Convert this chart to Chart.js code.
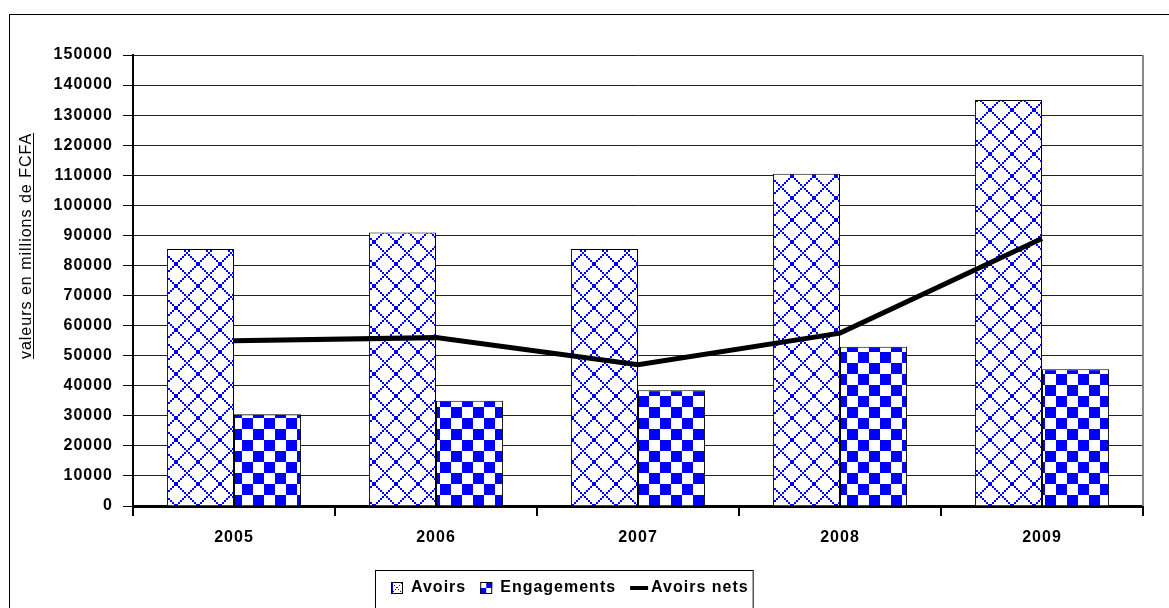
<!DOCTYPE html>
<html>
<head>
<meta charset="utf-8">
<script src="https://cdn.jsdelivr.net/npm/chart.js@4.4.0/dist/chart.umd.min.js"></script>
<style>
  html, body { margin: 0; padding: 0; background: #fff; }
  #wrap { width: 1169px; height: 608px; }
</style>
</head>
<body>
<div id="wrap"><canvas id="barChart" width="1169" height="608"></canvas></div>
<script>
// donnees
var annees = ["2005", "2006", "2007", "2008", "2009"];
var avoirs = [85500, 91000, 85500, 110500, 135000];
var engagements = [30500, 35000, 38500, 53000, 45500];
var avoirsNets = [55000, 56000, 47000, 57500, 89000];
var yTicksMax = 150000;
var yTicksStep = 10000;
var titreY = "valeurs en millions de FCFA";

var bleu = "#0000ff";

// motif losanges (Avoirs)
function motifLosanges() {
    var c = document.createElement("canvas");
    c.width = 22; c.height = 22;
    var g = c.getContext("2d");
    g.fillStyle = "#fff";
    g.fillRect(0, 0, 22, 22);
    g.fillStyle = bleu;
    for (var k = 0; k < 11; k++) {
        if (k === 5) continue; // petit vide au croisement
        g.fillRect(2 * k, 2 * k, 2, 2);
        g.fillRect(20 - 2 * k, 2 * k, 2, 2);
    }
    g.fillRect(10, 10, 2, 2);
    return g.createPattern(c, "repeat");
}

// motif damier (Engagements)
function motifDamier() {
    var c = document.createElement("canvas");
    c.width = 22; c.height = 22;
    var g = c.getContext("2d");
    g.fillStyle = "#fff";
    g.fillRect(0, 0, 22, 22);
    g.fillStyle = bleu;
    g.fillRect(0, 0, 11, 11);
    g.fillRect(11, 11, 11, 11);
    return g.createPattern(c, "repeat");
}

var espacement = "1px";

var decor = {
    id: "decor",
    beforeUpdate: function (chart) { chart.ctx.letterSpacing = espacement; },
    beforeDraw: function (chart) {
        var ctx = chart.ctx;
        ctx.save();
        ctx.fillStyle = "#fff";
        ctx.fillRect(0, 0, chart.width, chart.height);
        ctx.restore();
        ctx.letterSpacing = espacement;
    },
    afterDraw: function (chart) {
        var ctx = chart.ctx;
        var a = chart.chartArea;
        ctx.save();
        ctx.letterSpacing = espacement;

        // cadre exterieur
        ctx.strokeStyle = "#000";
        ctx.lineWidth = 1;
        ctx.strokeRect(9.5, 14.5, 1170, 620);

        // bord droit de la zone de tracé
        ctx.strokeStyle = "#888";
        ctx.lineWidth = 2;
        ctx.beginPath();
        ctx.moveTo(a.right, a.top);
        ctx.lineTo(a.right, a.bottom);
        ctx.stroke();

        // titre de l'axe Y souligne
        ctx.fillStyle = "#000";
        ctx.font = "16px 'Liberation Sans', Arial, sans-serif";
        ctx.textAlign = "center";
        ctx.textBaseline = "alphabetic";
        ctx.translate(31, 246);
        ctx.rotate(-Math.PI / 2);
        ctx.fillText(titreY, 0, 0);
        var w = ctx.measureText(titreY).width;
        ctx.fillRect(-w / 2, 2, w, 1);
        ctx.setTransform(1, 0, 0, 1, 0, 0);

        // legende
        var ds = chart.data.datasets;
        ctx.font = "bold 16px 'Liberation Sans', Arial, sans-serif";
        ctx.textAlign = "left";
        ctx.textBaseline = "middle";
        var x = 391, yc = 588;
        var x0 = 375;
        for (var i = 0; i < ds.length; i++) {
            if (ds[i].type === "line") {
                ctx.fillStyle = "#000";
                ctx.fillRect(x, yc - 2, 18, 4);
                x += 21;
            } else {
                ctx.fillStyle = "#fff";
                ctx.fillRect(x, yc - 6, 12, 12);
                ctx.fillStyle = bleu;
                if (i === 0) {
                    for (var k = 0; k < 6; k++) {
                        ctx.fillRect(x + 1 + 2 * k, yc - 5 + 2 * k, 1, 1);
                        ctx.fillRect(x + 10 - 2 * k, yc - 5 + 2 * k, 1, 1);
                    }
                    ctx.fillRect(x + 1, yc - 5, 1, 10);
                } else {
                    ctx.fillRect(x + 6, yc - 6, 6, 6);
                    ctx.fillRect(x, yc, 6, 6);
                }
                ctx.strokeStyle = "#000";
                ctx.lineWidth = 1;
                ctx.strokeRect(x + 0.5, yc - 5.5, 11, 11);
                x += 20;
            }
            ctx.fillStyle = "#000";
            ctx.fillText(ds[i].label, x, yc);
            x += ctx.measureText(ds[i].label).width + 14;
        }
        ctx.strokeStyle = "#000";
        ctx.lineWidth = 1;
        ctx.strokeRect(x0 + 0.5, 570.5, x - 14 + 4 - x0, 40);
        ctx.restore();
    }
};

var chartdata = {
    labels: annees,
    datasets: [
        {
            label: "Avoirs",
            data: avoirs,
            backgroundColor: motifLosanges(),
            borderColor: "#000",
            borderWidth: 1,
            categoryPercentage: 0.664,
            barPercentage: 1.0,
            order: 1
        },
        {
            label: "Engagements",
            data: engagements,
            backgroundColor: motifDamier(),
            borderColor: "#000",
            borderWidth: 1,
            categoryPercentage: 0.664,
            barPercentage: 1.0,
            order: 1
        },
        {
            type: "line",
            label: "Avoirs nets",
            data: avoirsNets,
            borderColor: "#000",
            backgroundColor: "#000",
            borderWidth: 5,
            pointRadius: 0,
            tension: 0,
            fill: false,
            order: 0
        }
    ]
};

var barGraph = new Chart(document.getElementById("barChart"), {
    type: "bar",
    data: chartdata,
    plugins: [decor],
    options: {
        responsive: false,
        animation: false,
        devicePixelRatio: 1,
        layout: { padding: { top: 55, right: 26, bottom: 0, left: 0 } },
        plugins: {
            legend: { display: false },
            tooltip: { enabled: false }
        },
        scales: {
            x: {
                offset: true,
                afterFit: function (s) { s.height = 102; },
                grid: {
                    offset: true,
                    drawOnChartArea: false,
                    drawTicks: true,
                    tickLength: 10,
                    color: "#000",
                    lineWidth: 2
                },
                border: { display: true, color: "#000", width: 3 },
                ticks: {
                    color: "#000",
                    padding: 12,
                    font: { family: "'Liberation Sans', Arial, sans-serif", size: 16, weight: "bold" }
                }
            },
            y: {
                min: 0,
                max: yTicksMax,
                afterFit: function (s) { s.width = 133; },
                grid: {
                    color: "#222",
                    lineWidth: 1,
                    tickLength: 10,
                    tickColor: "#000"
                },
                border: { display: true, color: "#000", width: 2 },
                ticks: {
                    stepSize: yTicksStep,
                    color: "#000",
                    padding: 10,
                    callback: function (v) { return String(v); },
                    font: { family: "'Liberation Sans', Arial, sans-serif", size: 16, weight: "bold" }
                }
            }
        }
    }
});
</script>
</body>
</html>
